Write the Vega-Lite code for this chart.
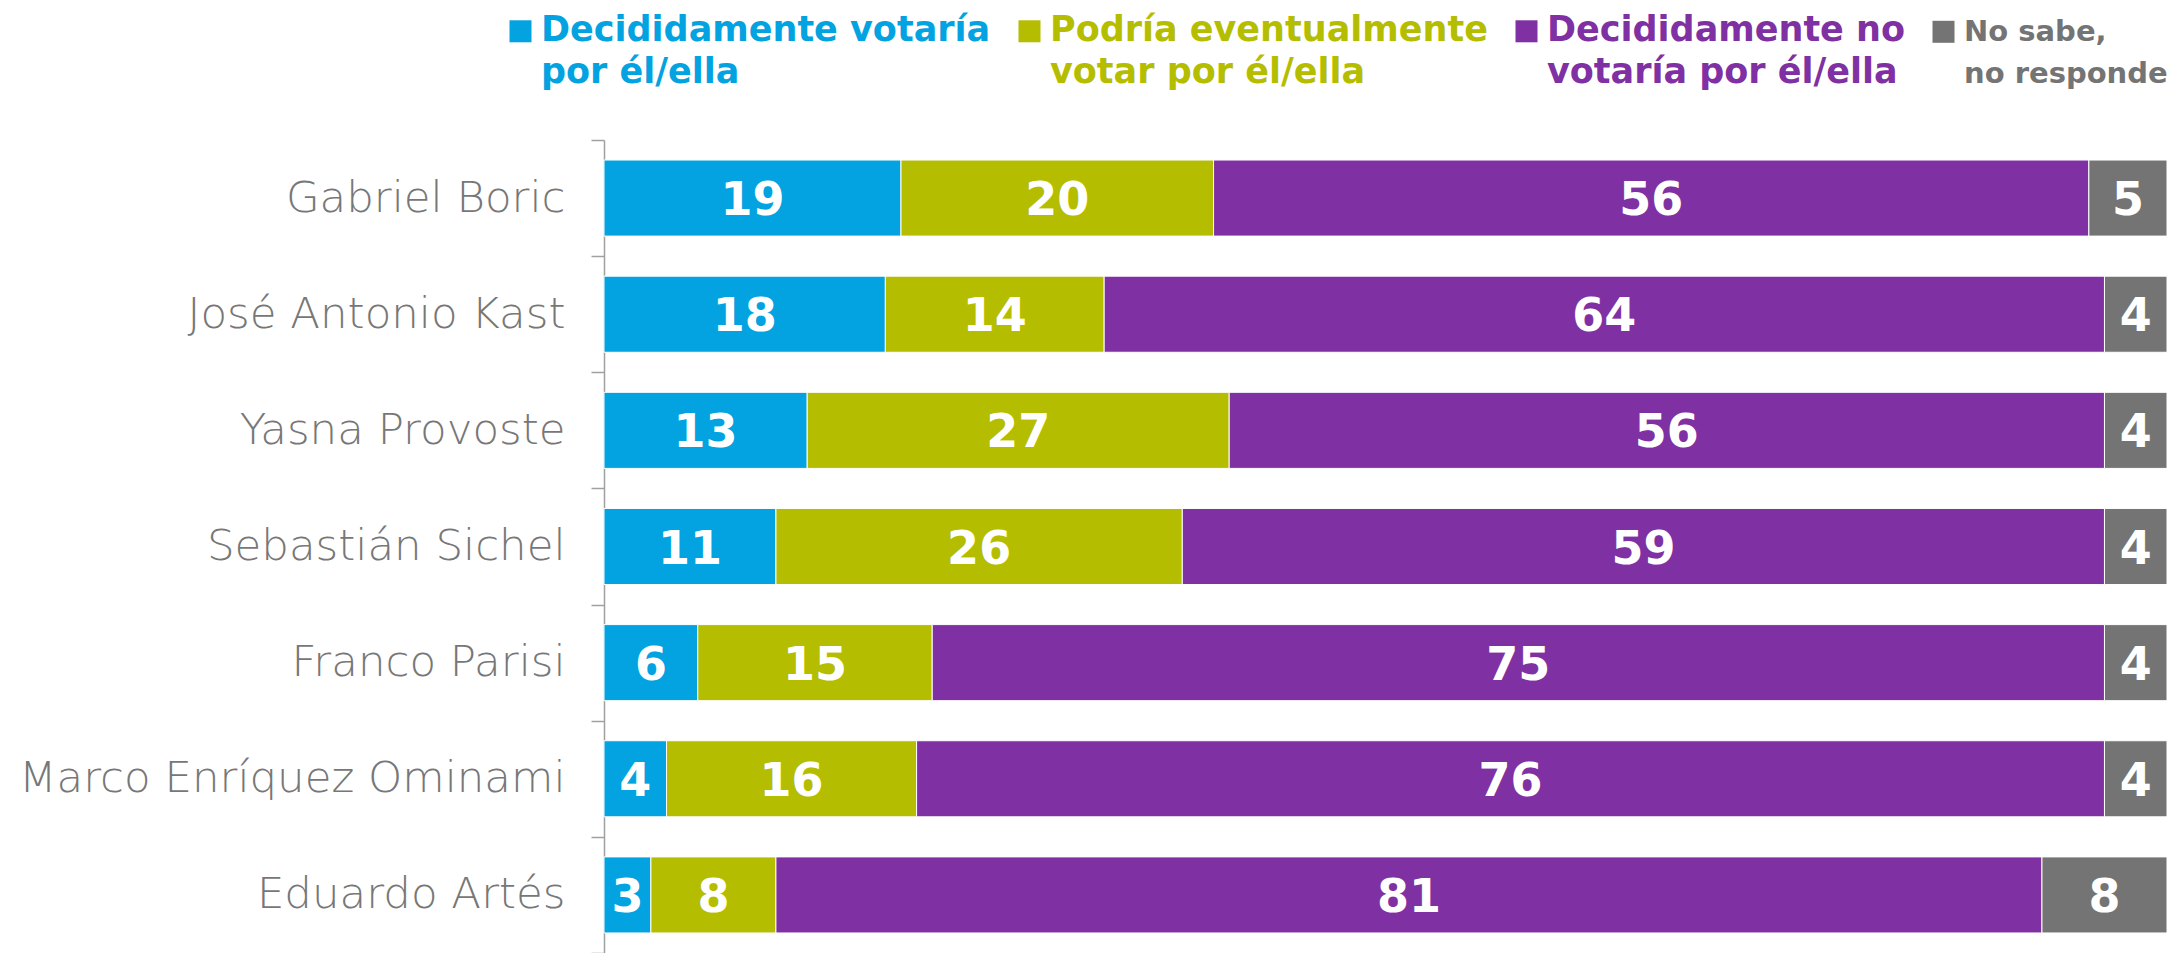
{
  "$schema": "https://vega.github.io/schema/vega-lite/v6.json",
  "width": 1563,
  "height": 813,
  "autosize": "none",
  "padding": {"left": 604, "top": 140, "right": 10, "bottom": 0},
  "background": "white",
  "config": {"view": {"stroke": null}, "style": {"guide-label": {"lineHeight": 42}}},
  "data": {
    "values": [
      {"candidato": "Gabriel Boric", "respuesta": "Decididamente votaría por él/ella", "orden": 1, "valor": 19},
      {"candidato": "Gabriel Boric", "respuesta": "Podría eventualmente votar por él/ella", "orden": 2, "valor": 20},
      {"candidato": "Gabriel Boric", "respuesta": "Decididamente no votaría por él/ella", "orden": 3, "valor": 56},
      {"candidato": "Gabriel Boric", "respuesta": "No sabe, no responde", "orden": 4, "valor": 5},
      {"candidato": "José Antonio Kast", "respuesta": "Decididamente votaría por él/ella", "orden": 1, "valor": 18},
      {"candidato": "José Antonio Kast", "respuesta": "Podría eventualmente votar por él/ella", "orden": 2, "valor": 14},
      {"candidato": "José Antonio Kast", "respuesta": "Decididamente no votaría por él/ella", "orden": 3, "valor": 64},
      {"candidato": "José Antonio Kast", "respuesta": "No sabe, no responde", "orden": 4, "valor": 4},
      {"candidato": "Yasna Provoste", "respuesta": "Decididamente votaría por él/ella", "orden": 1, "valor": 13},
      {"candidato": "Yasna Provoste", "respuesta": "Podría eventualmente votar por él/ella", "orden": 2, "valor": 27},
      {"candidato": "Yasna Provoste", "respuesta": "Decididamente no votaría por él/ella", "orden": 3, "valor": 56},
      {"candidato": "Yasna Provoste", "respuesta": "No sabe, no responde", "orden": 4, "valor": 4},
      {"candidato": "Sebastián Sichel", "respuesta": "Decididamente votaría por él/ella", "orden": 1, "valor": 11},
      {"candidato": "Sebastián Sichel", "respuesta": "Podría eventualmente votar por él/ella", "orden": 2, "valor": 26},
      {"candidato": "Sebastián Sichel", "respuesta": "Decididamente no votaría por él/ella", "orden": 3, "valor": 59},
      {"candidato": "Sebastián Sichel", "respuesta": "No sabe, no responde", "orden": 4, "valor": 4},
      {"candidato": "Franco Parisi", "respuesta": "Decididamente votaría por él/ella", "orden": 1, "valor": 6},
      {"candidato": "Franco Parisi", "respuesta": "Podría eventualmente votar por él/ella", "orden": 2, "valor": 15},
      {"candidato": "Franco Parisi", "respuesta": "Decididamente no votaría por él/ella", "orden": 3, "valor": 75},
      {"candidato": "Franco Parisi", "respuesta": "No sabe, no responde", "orden": 4, "valor": 4},
      {"candidato": "Marco Enríquez Ominami", "respuesta": "Decididamente votaría por él/ella", "orden": 1, "valor": 4},
      {"candidato": "Marco Enríquez Ominami", "respuesta": "Podría eventualmente votar por él/ella", "orden": 2, "valor": 16},
      {"candidato": "Marco Enríquez Ominami", "respuesta": "Decididamente no votaría por él/ella", "orden": 3, "valor": 76},
      {"candidato": "Marco Enríquez Ominami", "respuesta": "No sabe, no responde", "orden": 4, "valor": 4},
      {"candidato": "Eduardo Artés", "respuesta": "Decididamente votaría por él/ella", "orden": 1, "valor": 3},
      {"candidato": "Eduardo Artés", "respuesta": "Podría eventualmente votar por él/ella", "orden": 2, "valor": 8},
      {"candidato": "Eduardo Artés", "respuesta": "Decididamente no votaría por él/ella", "orden": 3, "valor": 81},
      {"candidato": "Eduardo Artés", "respuesta": "No sabe, no responde", "orden": 4, "valor": 8}
    ]
  },
  "transform": [
    {"stack": "valor", "groupby": ["candidato"], "sort": [{"field": "orden", "order": "ascending"}], "as": ["x0", "x1"]},
    {"calculate": "(datum.x0 + datum.x1) / 2", "as": "xm"}
  ],
  "encoding": {
    "y": {
      "field": "candidato",
      "type": "nominal",
      "sort": null,
      "scale": {"paddingInner": 0, "paddingOuter": 0},
      "axis": {
        "title": null,
        "domainColor": "#a0a0a0",
        "domainWidth": 1.5,
        "tickColor": "#a0a0a0",
        "tickWidth": 1.5,
        "tickSize": 13,
        "tickBand": "extent",
        "labelFont": "DejaVu Sans",
        "labelFontWeight": 200,
        "labelFontSize": 43.5,
        "labelColor": "#777777",
        "labelPadding": 26,
        "labelLimit": 700
      }
    }
  },
  "layer": [
    {
      "mark": {"type": "bar", "stroke": "white", "strokeWidth": 1, "height": {"band": 0.655}},
      "encoding": {
        "x": {"field": "x0", "type": "quantitative", "scale": {"domain": [0, 100], "nice": false}, "axis": null},
        "x2": {"field": "x1"},
        "color": {
          "field": "respuesta",
          "type": "nominal",
          "scale": {
            "domain": ["Decididamente votaría por él/ella", "Podría eventualmente votar por él/ella", "Decididamente no votaría por él/ella", "No sabe, no responde"],
            "range": ["#02A3E0", "#B5BD00", "#7F30A3", "#737473"]
          },
          "legend": {
            "orient": "none",
            "legendX": -101,
            "legendY": -117,
            "direction": "horizontal",
            "columns": 4,
            "title": null,
            "padding": 0,
            "symbolType": "M-1,-1.86H1V0.14H-1Z",
            "symbolSize": 484,
            "symbolStrokeWidth": 0,
            "symbolOpacity": 1,
            "labelFont": "DejaVu Sans",
            "labelFontWeight": "bold",
            "labelFontSize": {"expr": "datum.value == 'No sabe, no responde' ? 29 : 35"},
            "labelColor": {"expr": "datum.value == 'Decididamente votaría por él/ella' ? '#02A3E0' : datum.value == 'Podría eventualmente votar por él/ella' ? '#B5BD00' : datum.value == 'Decididamente no votaría por él/ella' ? '#7F30A3' : '#737473'"},
            "labelOffset": 3,
            "columnPadding": 21,
            "labelLimit": 700,
            "labelBaseline": "alphabetic",
            "labelExpr": "datum.value == 'Decididamente votaría por él/ella' ? ['Decididamente votaría', 'por él/ella'] : datum.value == 'Podría eventualmente votar por él/ella' ? ['Podría eventualmente', 'votar por él/ella'] : datum.value == 'Decididamente no votaría por él/ella' ? ['Decididamente no', 'votaría por él/ella'] : ['No sabe,', 'no responde']"
          }
        }
      }
    },
    {
      "mark": {"type": "text", "color": "white", "font": "DejaVu Sans", "fontWeight": "bold", "fontSize": 46, "baseline": "middle", "align": "center", "dy": 3},
      "encoding": {
        "x": {"field": "xm", "type": "quantitative"},
        "text": {"field": "valor", "type": "quantitative"}
      }
    }
  ]
}
